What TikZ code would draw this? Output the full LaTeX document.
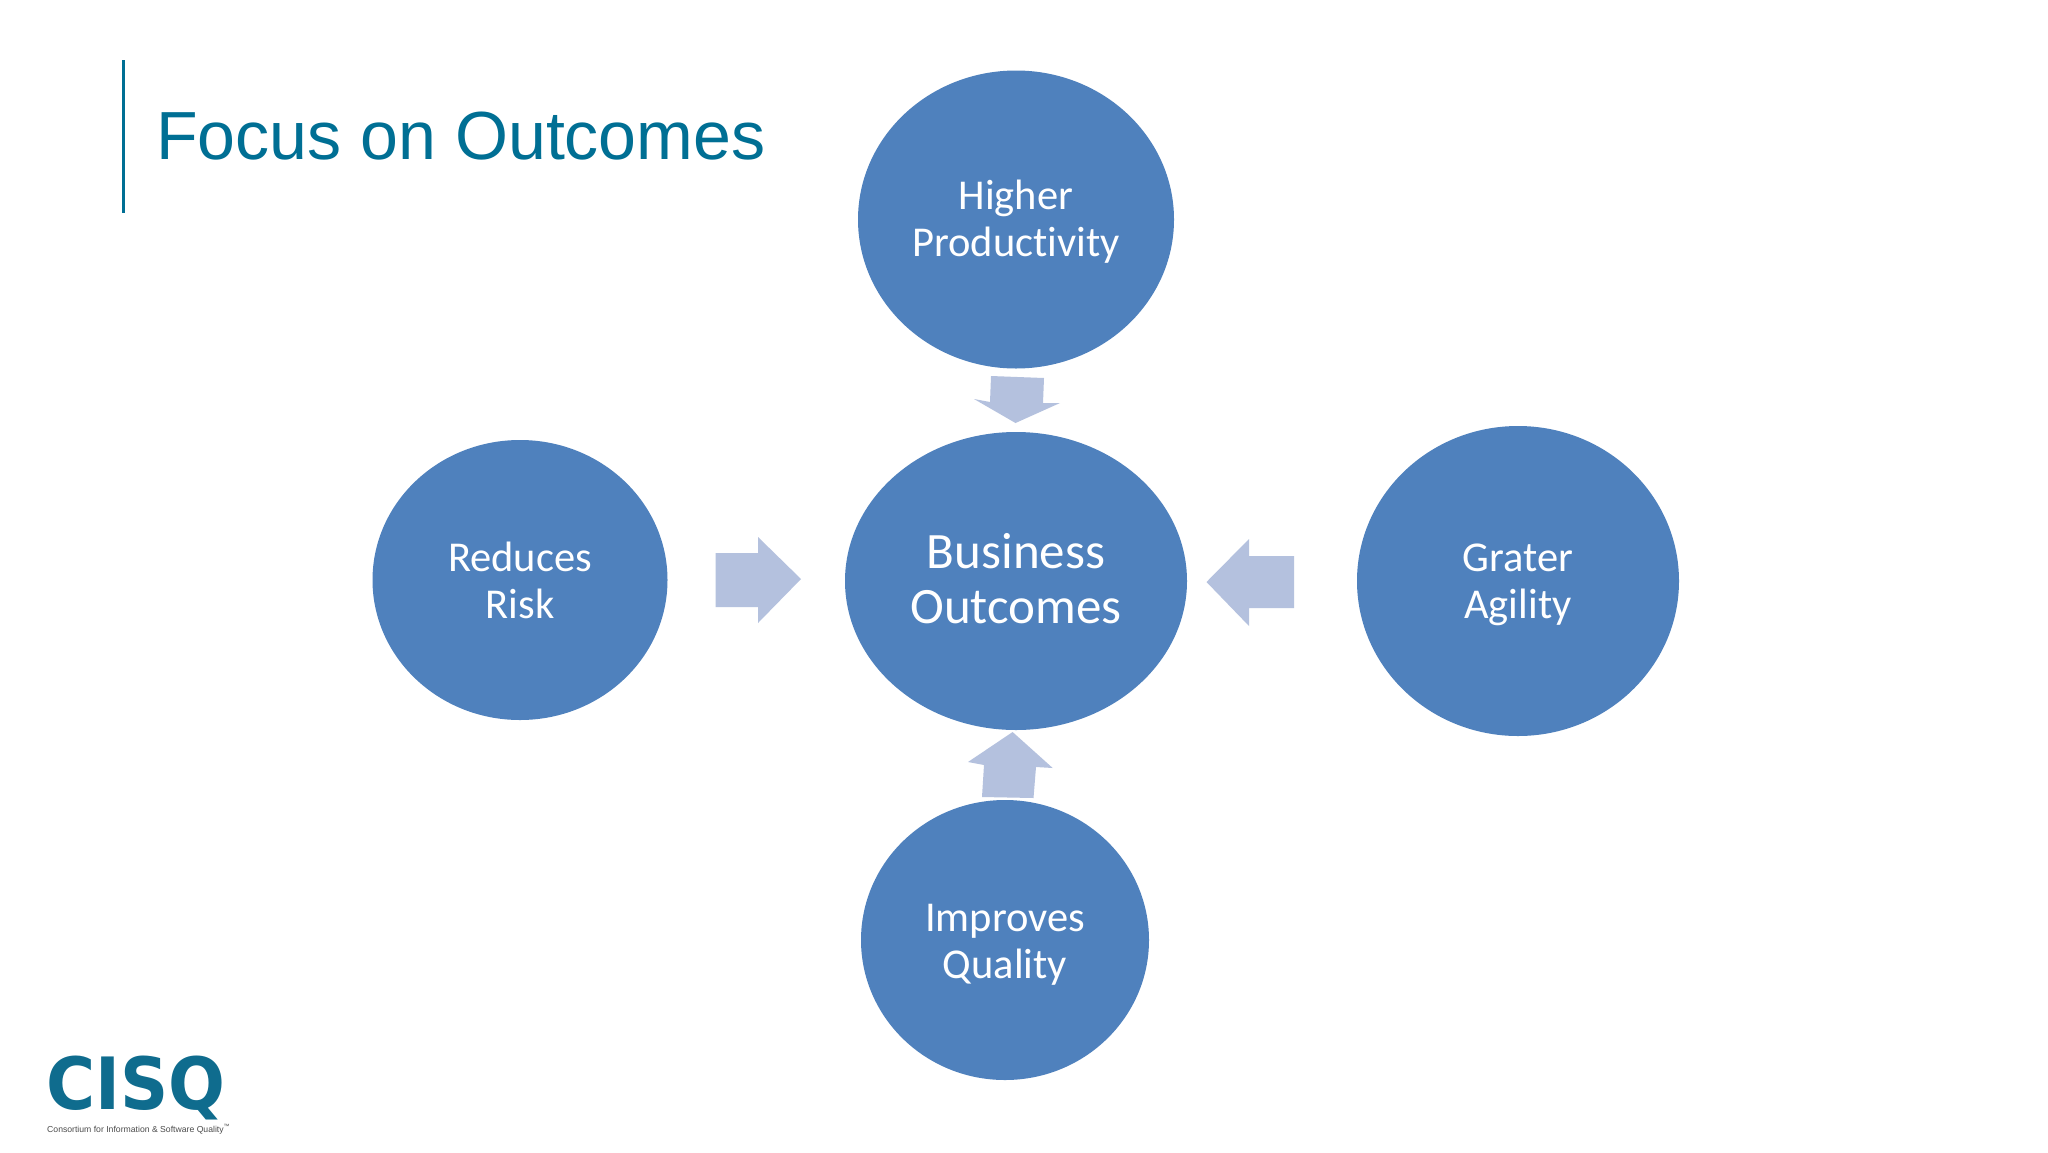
\documentclass[tikz,border=0pt]{standalone}
\usepackage{fontspec}
\usepackage{graphicx}
\usetikzlibrary{shapes.geometric}
\setmainfont{Liberation Sans}
\newfontfamily\calib[Ligatures=NoCommon]{Carlito}
\newfontfamily\logofont{DejaVu Sans}
\definecolor{circ}{HTML}{4F81BD}
\definecolor{arrowfill}{HTML}{B4C1DE}
\definecolor{titleblue}{HTML}{006F94}
\definecolor{logoblue}{HTML}{0F6C8E}
\tikzset{
  x=1pt,y=-1pt,
  bubble/.style={ellipse,fill=circ,inner sep=0pt},
  smalltext/.style={inner sep=0pt,text=white,align=center,font=\calib\fontsize{42.5}{47}\selectfont},
  bigtext/.style={inner sep=0pt,text=white,align=center,font=\calib\fontsize{51}{55}\selectfont},
  blockarrow/.style={fill=arrowfill,draw=none},
}
\begin{document}
\begin{tikzpicture}
\useasboundingbox (0,0) rectangle (2048,1152);
\fill[white] (0,0) rectangle (2048,1152);
\draw[titleblue,line width=3pt] (123,60) -- (123,213);
\node[anchor=base west,inner sep=0pt,text=titleblue,font=\fontsize{68.1}{70}\selectfont] (title) at (156,159) {Focus on Outcomes};

\node[bubble,minimum width=316pt,minimum height=298pt,label={[smalltext,yshift=-2.6pt]center:Higher\\Productivity}] (hp) at (1016,219.5) {};
\node[bubble,minimum width=342pt,minimum height=298pt,label={[bigtext,yshift=2.6pt]center:Business\\Outcomes}] (bo) at (1016,581) {};
\node[bubble,minimum width=295pt,minimum height=280pt,label={[smalltext]center:Reduces\\Risk}] (rr) at (520,580) {};
\node[bubble,minimum width=322pt,minimum height=310pt,label={[smalltext,yshift=-4pt]center:Grater\\Agility}] (ga) at (1518,581) {};
\node[bubble,minimum width=288pt,minimum height=280pt,label={[smalltext,yshift=-5pt]center:Improves\\Quality}] (iq) at (1005,940) {};

\fill[blockarrow] (991,376) -- (1044,378) -- (1043,403) -- (1060,403) -- (1015.5,423) -- (974,399) -- (990,402) -- cycle;
\fill[blockarrow] (715.5,553) -- (758,553) -- (758,537) -- (801,579) -- (758,623) -- (758,607) -- (715.5,607) -- cycle;
\fill[blockarrow] (1206.5,582) -- (1249,539) -- (1249,556) -- (1294,556) -- (1294,608) -- (1249,608) -- (1249,626) -- cycle;
\fill[blockarrow] (1012.6,732) -- (1052.7,768) -- (1036,767) -- (1033.5,798) -- (982,797) -- (984,765) -- (968,762) -- cycle;

\node[anchor=north west,inner sep=0pt,text=logoblue] (logo) at (46,1056)
  {\resizebox*{179pt}{64pt}{\logofont\bfseries CISQ}};
\node[anchor=base west,inner sep=0pt,text=black!70] (tag) at (47,1132)
  {\resizebox{183pt}{!}{Consortium for Information \& Software Quality\textsuperscript{™}}};
\end{tikzpicture}
\end{document}
